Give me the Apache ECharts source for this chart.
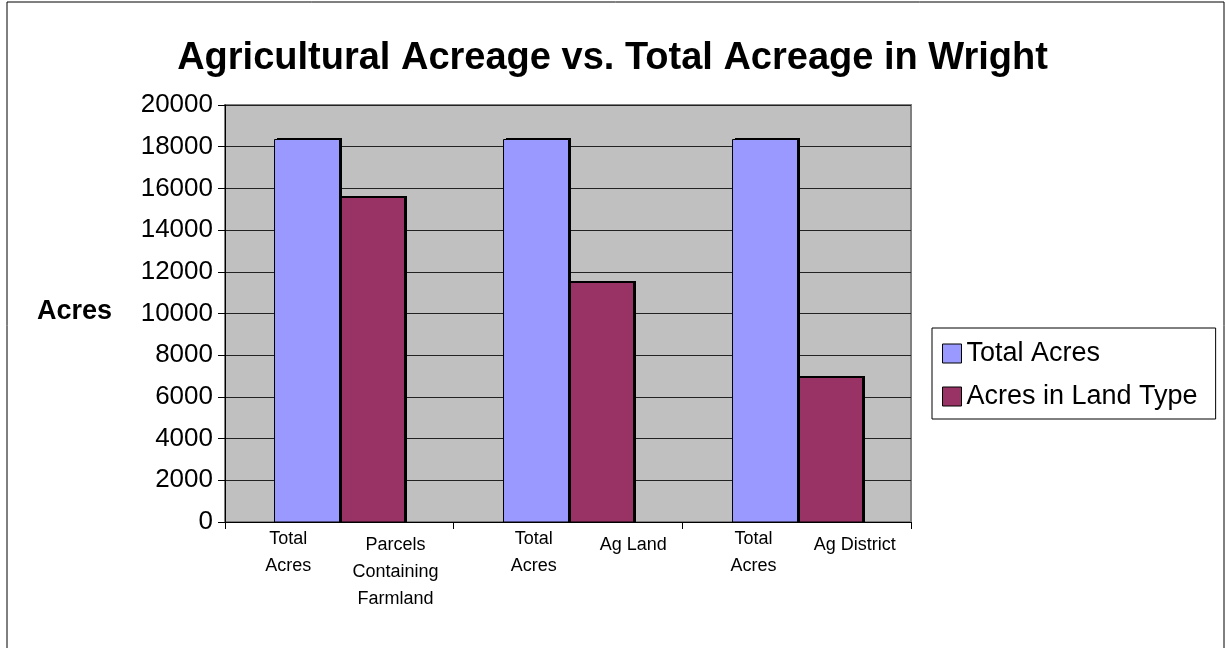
<!DOCTYPE html>
<html>
<head>
<meta charset="utf-8">
<script src="https://cdn.jsdelivr.net/npm/echarts@6/dist/echarts.min.js"></script>
<style>
  html, body { margin: 0; padding: 0; background: #fff; }
  #chart { width: 1225px; height: 648px; }
</style>
</head>
<body>
<div id="chart"></div>
<script>
// groups on the bar axis
var groups = ['Parcels', 'Ag Land', 'Ag District'];
// one label under each bar
var barLabels = ['Total\nAcres', 'Parcels\nContaining\nFarmland', 'Total\nAcres', 'Ag Land', 'Total\nAcres', 'Ag District'];
var totalAcres = [18350, 18350, 18350];
var landTypeAcres = [15600, 11500, 6970];
var yTicks = { min: 0, max: 20000, interval: 2000 };

// small nudges so labels sit like the Excel original
var labelShift = [6, -1, 23, 8, 14, 1];
var rich = {};
labelShift.forEach(function (d, i) {
    rich['l' + i] = {
        fontSize: 18,
        lineHeight: 27,
        color: '#000',
        fontFamily: 'Arial, "Liberation Sans", sans-serif',
        padding: [i % 2 ? 12 : 0, d < 0 ? -2 * d : 0, 0, d > 0 ? 2 * d : 0]
    };
});

var myChart = echarts.init(document.getElementById('chart'));

// bar with a hard black drop shadow on the right, like old Excel charts
function barRenderer(slot, color) {
    return function (params, api) {
        var base = api.coord([api.value(0), 0]);
        var top = api.coord([api.value(0), api.value(1)]);
        var band = api.size([1, 0])[0];
        var w = Math.round(band * 0.284);
        var x = Math.round(base[0] - w + slot * w) + 0.5;
        var y = Math.round(top[1]) + 0.5;
        var h = base[1] - y;
        return {
            type: 'group',
            children: [
                {
                    type: 'rect',
                    shape: { x: x + 2.5, y: y - 1.5, width: w, height: h + 1.5 },
                    style: { fill: '#000' }
                },
                {
                    type: 'rect',
                    shape: { x: x, y: y, width: w, height: h },
                    style: { fill: color, stroke: '#000', lineWidth: 1 }
                }
            ]
        };
    };
}

myChart.setOption({
    animation: false,
    textStyle: { fontFamily: 'Arial, "Liberation Sans", sans-serif' },
    title: {
        text: 'Agricultural Acreage vs. Total Acreage in Wright',
        left: 'center',
        top: 35,
        textStyle: { fontSize: 38, fontWeight: 'bold', color: '#000' }
    },
    graphic: [
        {
            type: 'rect',
            shape: { x: 7, y: 2, width: 1217, height: 660 },
            style: { fill: 'none', stroke: '#000', lineWidth: 1 },
            silent: true
        },
        {
            type: 'text',
            left: 37,
            top: 298,
            style: { text: 'Acres', fontSize: 27, fontWeight: 'bold', fill: '#000' }
        }
    ],
    legend: {
        orient: 'vertical',
        left: 932,
        top: 328,
        padding: [12, 18, 9, 10],
        itemGap: 16,
        itemWidth: 19,
        itemHeight: 19,
        icon: 'rect',
        borderColor: '#000',
        borderWidth: 1,
        textStyle: { fontSize: 27, color: '#000' },
        itemStyle: { borderColor: '#000', borderWidth: 1 },
        data: ['Total Acres', 'Acres in Land Type']
    },
    grid: {
        left: 225,
        top: 105,
        right: 314,
        bottom: 126,
        show: true,
        backgroundColor: '#C0C0C0',
        borderColor: '#808080',
        borderWidth: 2
    },
    xAxis: [
        {
            type: 'category',
            data: groups,
            axisLine: { lineStyle: { color: '#000', width: 1 } },
            axisTick: { show: true, length: 7, lineStyle: { color: '#000' } },
            axisLabel: { show: false }
        },
        {
            type: 'category',
            data: barLabels,
            position: 'bottom',
            axisLine: { show: false },
            axisTick: { show: false },
            axisLabel: {
                margin: 4,
                interval: 0,
                formatter: function (v, i) {
                    return '{l' + i + '|' + v + '}';
                },
                rich: rich
            }
        }
    ],
    yAxis: {
        type: 'value',
        min: yTicks.min,
        max: yTicks.max,
        interval: yTicks.interval,
        axisLine: { show: true, lineStyle: { color: '#000' } },
        axisTick: { show: true, length: 7, lineStyle: { color: '#000' } },
        axisLabel: {
            fontSize: 26,
            color: '#000',
            margin: 12,
            formatter: function (v) { return String(v); }
        },
        splitLine: { lineStyle: { color: '#222', width: 1 } }
    },
    series: [
        {
            name: 'Total Acres',
            type: 'custom',
            xAxisIndex: 0,
            z: 3,
            itemStyle: { color: '#9999FF' },
            encode: { x: 0, y: 1 },
            data: totalAcres.map(function (v, i) { return [i, v]; }),
            renderItem: barRenderer(0, '#9999FF')
        },
        {
            name: 'Acres in Land Type',
            type: 'custom',
            xAxisIndex: 0,
            z: 2,
            itemStyle: { color: '#993366' },
            encode: { x: 0, y: 1 },
            data: landTypeAcres.map(function (v, i) { return [i, v]; }),
            renderItem: barRenderer(1, '#993366')
        }
    ]
});
</script>
</body>
</html>
